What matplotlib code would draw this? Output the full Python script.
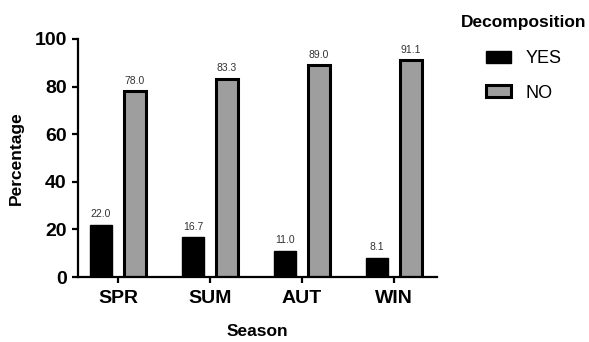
import numpy as np
import matplotlib.pyplot as plt
from matplotlib.patches import Patch

plt.rcParams['font.family'] = ['Liberation Sans', 'DejaVu Sans']

seasons = ["SPR", "SUM", "AUT", "WIN"]
yes_vals = [22.0, 16.7, 11.0, 8.1]
no_vals = [78.0, 83.3, 89.0, 91.1]
yticks = [0, 20, 40, 60, 80, 100]

fig = plt.figure(figsize=(5.89, 3.42), dpi=100)
ax = fig.add_axes([0.1324, 0.190, 0.610, 0.696])

x = np.arange(len(seasons))
w = 0.235
off = 0.185

b1 = ax.bar(x - off, yes_vals, w, color="black", edgecolor="black", linewidth=1.0)
b2 = ax.bar(x + off, no_vals, w, color="#9e9e9e", edgecolor="black", linewidth=2.2)

for bars, vals in [(b1, yes_vals), (b2, no_vals)]:
    for r, v in zip(bars, vals):
        ax.annotate(f"{v:.1f}", (r.get_x() + r.get_width() / 2, v),
                    xytext=(0, 4), textcoords="offset points",
                    ha="center", va="bottom", fontsize=7.5, color="#333333")

ax.set_xlim(-0.435, 3.47)
ax.set_ylim(0, 100)
ax.set_yticks(yticks)
ax.set_xticks(x)
ax.set_xticklabels(seasons)

for s in ["top", "right"]:
    ax.spines[s].set_visible(False)
for s in ["left", "bottom"]:
    ax.spines[s].set_linewidth(1.6)

ax.tick_params(axis="both", width=1.6, length=4.5, labelsize=14)
ax.tick_params(axis="x", pad=5)
for lab in ax.get_xticklabels() + ax.get_yticklabels():
    lab.set_fontweight("bold")

ax.set_ylabel("Percentage", fontsize=12.5, fontweight="bold", labelpad=8)
ax.set_xlabel("Season", fontsize=12.5, fontweight="bold", labelpad=12)

handles = [Patch(facecolor="black", edgecolor="black", linewidth=1.0),
           Patch(facecolor="#9e9e9e", edgecolor="black", linewidth=2.2)]
leg = fig.legend(handles, ["YES", "NO"], loc="upper left",
                 bbox_to_anchor=(0.755, 1.005), frameon=False,
                 fontsize=13, title="Decomposition",
                 title_fontproperties={"weight": "bold", "size": 12.5},
                 handlelength=1.4, handleheight=0.6, labelspacing=0.95,
                 handletextpad=0.8)
leg._legend_box.sep = 15

fig.savefig("out.png", dpi=100)
